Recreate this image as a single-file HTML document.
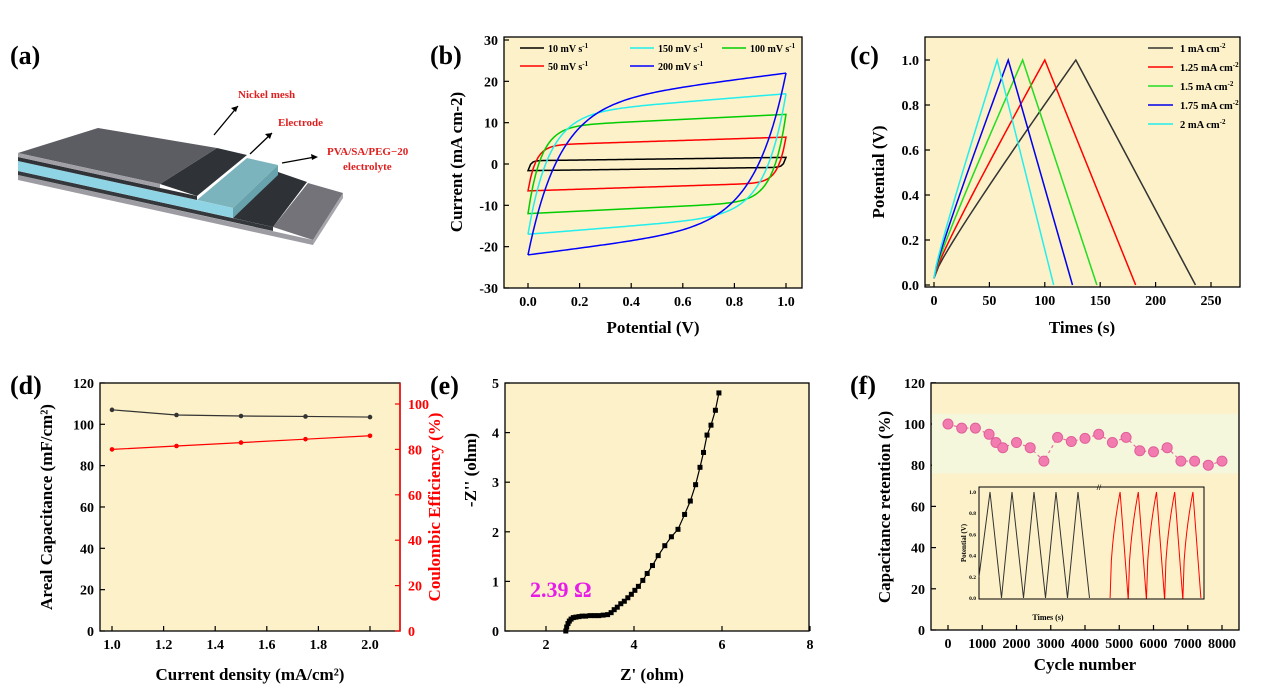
<!DOCTYPE html>
<html><head><meta charset="utf-8"><style>
html,body{margin:0;padding:0;background:#fff}
svg{display:block;font-family:"Liberation Serif",serif;font-weight:bold}
</style></head><body>
<svg id="fig" width="1267" height="692" viewBox="0 0 1267 692" xmlns="http://www.w3.org/2000/svg">
<g>
<polygon points="273,227 308,183 343,193 313,240" fill="#737379"/>
<polygon points="313,240 343,193 343,198 313,245" fill="#a6a6ac"/>
<polygon points="18,175 313,240 313,245 18,180" fill="#9c9ca2"/>
<polygon points="233,218 278,172 307,182 273,227" fill="#2e3236"/>
<polygon points="18,171 273,227 273,231 18,175" fill="#34383c"/>
<polygon points="197,200 247,158 278,165 233,208" fill="#7cb4bd"/>
<polygon points="233,208 278,165 278,175 233,218" fill="#68a3ad"/>
<polygon points="18,161 233,208 233,218 18,171" fill="#8ed4e4"/>
<polygon points="160,184 217,148 247,155 197,196" fill="#2f3337"/>
<polygon points="18,157 197,196 197,200 18,161" fill="#2f3337"/>
<polygon points="18,153 98,128 217,148 160,184" fill="#5c5d63"/>
<polygon points="18,153 160,184 160,188 18,157" fill="#a0a0a6"/>
<text x="238" y="98" font-size="11" fill="#e02020">Nickel mesh</text>
<text x="278" y="126" font-size="11" fill="#e02020">Electrode</text>
<text x="327" y="155" font-size="11" fill="#e02020">PVA/SA/PEG−20</text>
<text x="343" y="170" font-size="11" fill="#e02020">electrolyte</text>
<g stroke="#000" stroke-width="1.3">
<line x1="214" y1="135" x2="238" y2="106"/><line x1="250" y1="154" x2="272" y2="133"/><line x1="282" y1="163" x2="315" y2="157"/>
</g>
<polygon points="238,106 231,108 236,112" fill="#000"/><polygon points="272,133 265,134 270,139" fill="#000"/><polygon points="318,157 311,154 312,160" fill="#000"/>
</g>
</svg>
<script>
// ---------- data ----------
var cvRates = ["10 mV s-1","50 mV s-1","100 mV s-1","150 mV s-1","200 mV s-1"];
var cvPlateau = [0.8, 4.5, 9, 12, 14];
var cvSlope = [0.8, 2, 3, 5, 8];
var cvTau = [0.01, 0.03, 0.05, 0.08, 0.12];
var cvColors = ["#000","#f00","#0c0","#2ee","#00f"];
var gcdLabels = ["1 mA cm-2","1.25 mA cm-2","1.5 mA cm-2","1.75 mA cm-2","2 mA cm-2"];
var gcdPeak = [128, 100, 80, 67, 57];
var gcdEnd = [236, 182, 147, 125, 108];
var gcdColors = ["#333","#f00","#2d2","#00e","#2ee"];
var dDensity = [1.0, 1.25, 1.5, 1.75, 2.0];
var dCap = [107, 104.5, 104, 103.8, 103.5];
var dEff = [80, 81.5, 83, 84.5, 86];
var eRe = [2.45,2.47,2.5,2.53,2.57,2.62,2.68,2.75,2.82,2.9,3.0,3.1,3.2,3.3,3.4,3.48,3.55,3.62,3.7,3.78,3.86,3.94,4.02,4.1,4.2,4.3,4.42,4.55,4.7,4.85,5.0,5.15,5.28,5.4,5.5,5.58,5.66,5.75,5.85,5.93];
var eIm = [0.0,0.08,0.15,0.2,0.24,0.27,0.28,0.29,0.3,0.3,0.31,0.31,0.31,0.32,0.33,0.37,0.43,0.48,0.55,0.6,0.67,0.74,0.82,0.9,1.02,1.16,1.32,1.52,1.72,1.9,2.05,2.35,2.62,2.95,3.3,3.6,3.95,4.15,4.45,4.8];
var fCycles = [0,400,800,1200,1400,1600,2000,2400,2800,3200,3600,4000,4400,4800,5200,5600,6000,6400,6800,7200,7600,8000];
var fRet = [100,98,98,95,91,88.5,91,88.5,82,93.5,91.5,93,95,91,93.5,87,86.5,88.5,82,82,80,82];
var insetBlackPeaks = [0.1,0.3,0.5,0.7,0.9];
var insetRedPeaks = [0.1,0.3,0.5,0.7,0.9];

var NS="http://www.w3.org/2000/svg", svg=document.getElementById('fig');
function mk(tag,at,par){var e=document.createElementNS(NS,tag);for(var k in at)e.setAttribute(k,at[k]);(par||svg).appendChild(e);return e;}
function txt(s,x,y,at,par){var e=mk('text',Object.assign({x:x,y:y},at||{}),par);e.textContent=s;return e;}
var BG="#fcf1c8";

function axes(name,x0,y0,x1,y1,xt,xs,yt,ys,fmtx,fmty){
  var g=mk('g',{});
  
  
  var r=mk('rect',{x:x0,y:y0,width:x1-x0,height:y1-y0,fill:BG,stroke:"#000","stroke-width":1.3},g);
  
  
  xt.forEach(function(v){var px=xs(v);
    var t=mk('line',{x1:px,y1:y1,x2:px,y2:y1-5,stroke:"#000","stroke-width":1.2},g);
    
    
    var l=txt(fmtx(v),px,y1+18,{"font-size":14,"text-anchor":"middle"},g);
    
    });
  yt.forEach(function(v){var py=ys(v);
    var t=mk('line',{x1:x0,y1:py,x2:x0+5,y2:py,stroke:"#000","stroke-width":1.2},g);
    
    
    var l=txt(fmty(v),x0-6,py+5,{"font-size":14,"text-anchor":"end"},g);
    
    });
  return g;
}
function title(s,x,y,rot,name,col){var e=txt(s,x,y,{"font-size":17,"text-anchor":"middle",fill:col||"#000",transform:rot?"rotate(-90 "+x+" "+y+")":""});
  
  return e;}
function lbl(s,x,y,n){var e=txt(s,x,y,{"font-size":26});
  
  }
lbl("(a)",10,64,'panel-label-a');lbl("(b)",430,64,'panel-label-b');lbl("(c)",850,64,'panel-label-c');
lbl("(d)",10,394,'panel-label-d');lbl("(e)",430,394,'panel-label-e');lbl("(f)",850,394,'panel-label-f');
function f1(v){return v.toFixed(1);} function f0(v){return String(v);}

// ---------- (b) CV ----------
var bx=function(v){return 528+258*v;}, by=function(i){return 164-4.133*i;};
axes('cv',504,37,802,288,[0,0.2,0.4,0.6,0.8,1.0],bx,[-30,-20,-10,0,10,20,30],by,f1,f0);
title("Potential (V)",653,333,false,'cv-x-title');
title("Current (mA cm-2)",462,162,true,'cv-y-title');
cvRates.forEach(function(r,k){
  var U=cvPlateau[k],s=cvSlope[k],tau=cvTau[k],L0=-(U+s),pts=[];
  for(var j=0;j<=100;j++){var V=j/100;pts.push(bx(V)+","+by(L0+(U-L0)*(1-Math.exp(-V/tau))+s*V));}
  for(var j=100;j>=0;j--){var V=j/100,W=1-V;pts.push(bx(V)+","+by(-(L0+(U-L0)*(1-Math.exp(-W/tau))+s*W)));}
  var p=mk('polygon',{points:pts.join(" "),fill:"none",stroke:cvColors[k],"stroke-width":1.5});
  
  
  var lx=[520,520,722,630,630][k], ly=[52,70,52,52,70][k];
  var ll=mk('line',{x1:lx,y1:ly-4,x2:lx+24,y2:ly-4,stroke:cvColors[k],"stroke-width":1.5});
  
  
  var lt=txt(r.replace('s-1','s'),lx+28,ly,{"font-size":10});
  
  
  var sp=mk('tspan',{"font-size":7,dy:-4},lt);sp.textContent="-1";
});

// ---------- (c) GCD ----------
var cx=function(t){return 934+1.108*t;}, cy=function(v){return 285-225*v;};
axes('gcd',925,37,1240,287,[0,50,100,150,200,250],cx,[0,0.2,0.4,0.6,0.8,1.0],cy,f0,f1);
title("Times (s)",1082,333,false,'gcd-x-title');
title("Potential (V)",884,172,true,'gcd-y-title');
gcdLabels.forEach(function(n,k){
  var pts=[],P=gcdPeak[k],E=gcdEnd[k];
  for(var j=0;j<=30;j++){var f=j/30;pts.push(cx(P*f)+","+cy(0.03+0.97*(f*0.85+0.15*Math.sqrt(f))));}
  for(var j=0;j<=30;j++){var f=j/30;pts.push(cx(P+(E-P)*f)+","+cy(1-f));}
  var p=mk('polyline',{points:pts.join(" "),fill:"none",stroke:gcdColors[k],"stroke-width":1.5});
  
  
  var ly=52+19*k;
  var ll=mk('line',{x1:1148,y1:ly-4,x2:1173,y2:ly-4,stroke:gcdColors[k],"stroke-width":1.5});
  
  
  var lt=txt(n.replace(' cm-2',' cm'),1180,ly,{"font-size":10.5});
  
  
  var sp=mk('tspan',{"font-size":7,dy:-4},lt);sp.textContent="-2";
});

// ---------- (d) ----------
var dx=function(d){return 112+258*(d-1);}, dyL=function(v){return 631-2.067*v;}, dyR=function(p){return 631-2.27*p;};
axes('capacitance',100,383,400,631,[1.0,1.2,1.4,1.6,1.8,2.0],dx,[0,20,40,60,80,100,120],dyL,f1,f0);
[0,20,40,60,80,100].forEach(function(v){
  var t=mk('line',{x1:400,y1:dyR(v),x2:395,y2:dyR(v),stroke:"#f00","stroke-width":1.2});
  
  
  var l=txt(String(v),408,dyR(v)+5,{"font-size":14,fill:"#f00"});
  
  });
var rax=mk('line',{x1:400,y1:383,x2:400,y2:631,stroke:"#f00","stroke-width":1.5});


title("Current density (mA/cm²)",250,680,false,'capacitance-x-title');
title("Areal Capacitance (mF/cm²)",52,507,true,'capacitance-y-title');
title("Coulombic Efficiency (%)",440,507,true,'efficiency-y-title',"#f00");
[[dCap,dyL,"#333","capacitance"],[dEff,dyR,"#f00","efficiency"]].forEach(function(s){
  var p=mk('polyline',{points:dDensity.map(function(d,i){return dx(d)+","+s[1](s[0][i]);}).join(" "),fill:"none",stroke:s[2],"stroke-width":1.2});
  
  
  dDensity.forEach(function(d,i){var c=mk('circle',{cx:dx(d),cy:s[1](s[0][i]),r:2.3,fill:s[2]});
    
    });
});

// ---------- (e) EIS ----------
var ex=function(z){return 546+44*(z-2);}, ey=function(z){return 631-49.6*z;};
axes('eis',505,383,809,631,[2,4,6,8],ex,[0,1,2,3,4,5],ey,f0,f0);
title("Z' (ohm)",652,680,false,'eis-x-title');
title("-Z'' (ohm)",476,470,true,'eis-y-title');
var el=mk('polyline',{points:eRe.map(function(z,i){return ex(z)+","+ey(eIm[i]);}).join(" "),fill:"none",stroke:"#000","stroke-width":1.2});


eRe.forEach(function(z,i){var m=mk('rect',{x:ex(z)-2.5,y:ey(eIm[i])-2.5,width:5,height:5,fill:"#000"});
  
  });
var rs=txt("2.39 Ω",530,597,{"font-size":22,fill:"#e81ce8"});



// ---------- (f) ----------
var fx=function(c){return 948+0.03425*c;}, fy=function(v){return 630-2.06*v;};
axes('retention',931,383,1239,630,[0,1000,2000,3000,4000,5000,6000,7000,8000],fx,[0,20,40,60,80,100,120],fy,f0,f0);
var band=mk('rect',{x:932,y:fy(105),width:306,height:fy(76)-fy(105),fill:"#f4f7dc"});


title("Cycle number",1085,670,false,'retention-x-title');
title("Capacitance retention (%)",890,507,true,'retention-y-title');
var fl=mk('polyline',{points:fCycles.map(function(c,i){return fx(c)+","+fy(fRet[i]);}).join(" "),fill:"none",stroke:"#e86fa0","stroke-width":1.2,"stroke-dasharray":"3 3"});


fCycles.forEach(function(c,i){var m=mk('circle',{cx:fx(c),cy:fy(fRet[i]),r:5,fill:"#f27cb0",stroke:"#e0609a"});
  
  });
// inset
var ix0=979,ix1=1204,iy0=487,iy1=599,imid=1099;
var ib=mk('rect',{x:ix0,y:iy0,width:ix1-ix0,height:iy1-iy0,fill:BG,stroke:"#000","stroke-width":1});


var iyv=function(v){return iy1-1-106*v;};
[0,0.2,0.4,0.6,0.8,1.0].forEach(function(v){var l=txt(v.toFixed(1),ix0-3,iyv(v)+2,{"font-size":5.5,"text-anchor":"end"});
  
  });
var it=txt("Potential (V)",966,543,{"font-size":7,"text-anchor":"middle",transform:"rotate(-90 966 543)"});


var ixt=txt("Times (s)",1048,620,{"font-size":8,"text-anchor":"middle"});


var bp=[ix0],rp=[];
insetBlackPeaks.forEach(function(f){var px=ix0+(imid-ix0-10)*f;bp.push((px)+","+iyv(1));bp.push((px+11.5)+","+iyv(0));});
var ibl=mk('polyline',{points:(ix0+","+iyv(0.2)+" ")+bp.slice(1).join(" "),fill:"none",stroke:"#333","stroke-width":1});


insetRedPeaks.forEach(function(f){var px=imid+12+(ix1-imid-14)*f;
  for(var j=0;j<=8;j++){var u=j/8;rp.push((px-10+10*u)+","+iyv(Math.sqrt(u)));}
  rp.push((px+8)+","+iyv(0));});
var irl=mk('polyline',{points:rp.join(" "),fill:"none",stroke:"#f00","stroke-width":1});


var brk=txt("//",imid,iy0+3,{"font-size":8,"text-anchor":"middle"});


</script>
</body></html>
